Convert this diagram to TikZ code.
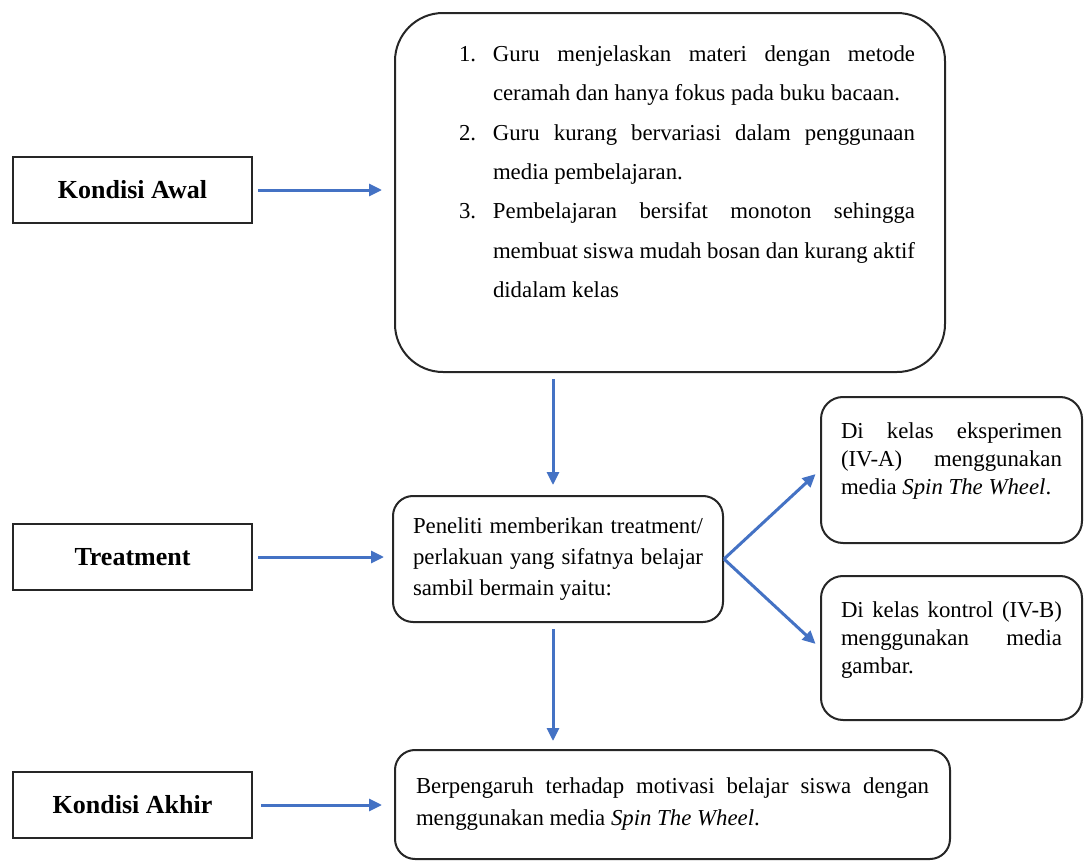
\documentclass[tikz,border=0pt]{standalone}
\usepackage{fontspec}
\setmainfont{Liberation Serif}
\usetikzlibrary{arrows.meta, positioning}
\definecolor{birupanah}{RGB}{68,114,196}
\tikzset{
    kondisi/.style={rectangle, draw=black!85, line width=1pt, minimum width=119.5pt, minimum height=33pt, font=\fontsize{13}{15}\selectfont\bfseries},
    kotak/.style={rectangle, draw=black!85, line width=1pt, rounded corners=11pt, align=justify, font=\fontsize{11.4}{14}\selectfont},
    panah/.style={draw=birupanah, line width=1.5pt, -{Triangle[length=6.5pt, width=6pt]}}
}

\begin{document}
\begin{tikzpicture}[x=0.5pt, y=-0.5pt]
    \useasboundingbox (0,0) rectangle (1084,862);
    % Nodes
    \node (awal) [kondisi] at (132.5,190) {Kondisi Awal};
    \node (treatment) [kondisi] at (132.5,557) {Treatment};
    \node (akhir) [kondisi] at (132.5,805) {Kondisi Akhir};
    \node (masalah) [kotak, rounded corners=24pt, text width=245pt, inner xsep=15pt, minimum width=275pt, minimum height=179.5pt, font=\fontsize{11.4}{19.67}\selectfont] at (670,192.5) {\leftskip=34pt
        \noindent\llap{\makebox[17pt][l]{1.}}Guru menjelaskan materi dengan metode\linebreak ceramah dan hanya fokus pada buku bacaan.\par
        \noindent\llap{\makebox[17pt][l]{2.}}Guru kurang bervariasi dalam penggunaan\linebreak media pembelajaran.\par
        \noindent\llap{\makebox[17pt][l]{3.}}Pembelajaran bersifat monoton sehingga\linebreak membuat siswa mudah bosan dan kurang aktif\linebreak didalam kelas\rule[-21pt]{0pt}{0pt}\par};
    \node (perlakuan) [kotak, rounded corners=10pt, text width=145pt, inner xsep=10pt, minimum width=165pt, minimum height=63pt, font=\fontsize{11.4}{15.5}\selectfont] at (558,559) {Peneliti memberikan treatment/\linebreak perlakuan yang sifatnya belajar\linebreak sambil bermain yaitu:};
    \node (eksperimen) [kotak, text width=110.5pt, inner xsep=10pt, minimum width=130.5pt, minimum height=73pt] at (951.5,470) {Di kelas eksperimen\linebreak (IV-A) menggunakan\linebreak media \textit{Spin The Wheel}.\rule[-11pt]{0pt}{0pt}};
    \node (kontrol) [kotak, text width=110.5pt, inner xsep=10pt, minimum width=130.5pt, minimum height=72pt] at (951.5,648) {Di kelas kontrol (IV-B)\linebreak menggunakan media\linebreak gambar.\rule[-10pt]{0pt}{0pt}};
    \node (hasil) [kotak, rounded corners=10pt, text width=256.5pt, inner xsep=10.5pt, minimum width=277.5pt, minimum height=54.5pt, font=\fontsize{11.4}{16}\selectfont] at (672.5,804.5) {Berpengaruh terhadap motivasi belajar siswa dengan\linebreak menggunakan media \textit{Spin The Wheel}.};
    % Arrows
    \draw [panah, shorten <=2.5pt, shorten >=6pt] (awal) -- (masalah.west |- awal);
    \draw [panah, shorten <=2.5pt, shorten >=4pt] (treatment) -- (perlakuan.west |- treatment);
    \draw [panah, shorten <=4pt, shorten >=6pt] (akhir) -- (hasil.west |- akhir);
    \draw [panah, shorten <=3pt, shorten >=5pt] ([xshift=-2.5pt]perlakuan.north |- masalah.south) -- ([xshift=-2.5pt]perlakuan.north);
    \draw [panah, shorten <=3pt, shorten >=4pt] ([xshift=-2.5pt]perlakuan.south) -- ([xshift=-2.5pt]perlakuan.south |- hasil.north);
    \draw [panah, shorten >=3pt] (perlakuan.east) -- (eksperimen.west);
    \draw [panah, shorten >=3pt] (perlakuan.east) -- (kontrol.west);
\end{tikzpicture}
\end{document}
